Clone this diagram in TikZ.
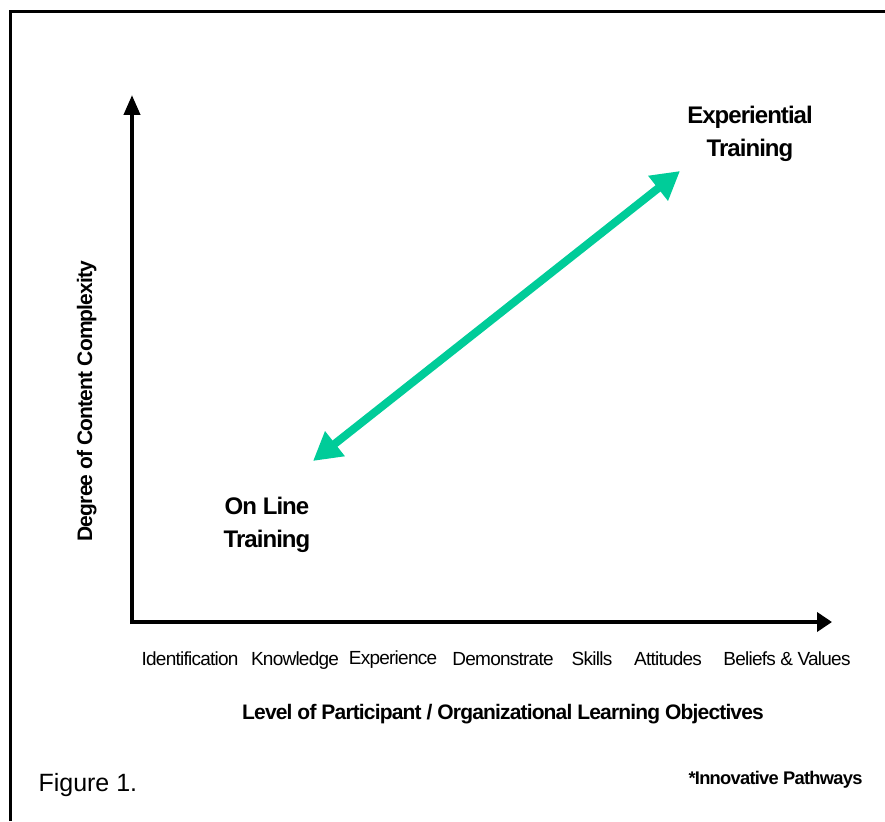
\documentclass[tikz,border=0pt]{standalone}
\usepackage{fontspec}
\setmainfont{Liberation Sans}
\usetikzlibrary{arrows.meta}

\definecolor{pathgreen}{RGB}{0,204,153}

% плотный набор, как в исходной схеме
\newcommand{\tight}{\addfontfeatures{LetterSpace=-4}}

\tikzset{
	axis/.style={line width=4pt},
	ticklabel/.style={font=\fontsize{19}{21}\selectfont\tight, anchor=base},
	endlabel/.style={font=\fontsize{24}{33}\selectfont\bfseries\tight, align=center},
	axistitle/.style={font=\fontsize{21}{24}\selectfont\bfseries\tight},
}

\begin{document}
\begin{tikzpicture}[x=1pt, y=-1pt]
	\useasboundingbox (0,0) rectangle (885,821);

	% Рамка (видны только верх и левый край)
	\draw[line width=3pt] (10,821) -- (10,11.5) -- (885,11.5);

	% Оси
	\coordinate (origin) at (132,622);
	\coordinate (ytip) at (132,95);
	\coordinate (xtip) at (832,622);
	\draw[axis, -{Triangle[length=20pt, width=16pt]}] ([yshift=-2pt]origin) -- (ytip);
	\draw[axis, -{Triangle[length=15pt, width=19pt]}] ([xshift=-2pt]origin) -- (xtip);

	% Уровни целей обучения
	\node[ticklabel] (t1) at (190,665) {Identification};
	\node[ticklabel] (t2) at (295,665) {Knowledge};
	\node[ticklabel] (t3) at (393,664) {Experience};
	\node[ticklabel] (t4) at (503,665) {Demonstrate};
	\node[ticklabel] (t5) at (592,665) {Skills};
	\node[ticklabel] (t6) at (668,665) {Attitudes};
	\node[ticklabel] (t7) at (787,665) {Beliefs \& Values};

	% Подписи осей
	\node[axistitle, anchor=base] (xtitle) at (503,719)
		{Level of Participant / Organizational Learning Objectives};
	\node[axistitle, rotate=90, anchor=base] (ytitle) at (92,401)
		{Degree of Content Complexity};

	% Концы диапазона
	\node[endlabel] (online) at (267,525) {On Line\\Training};
	\node[endlabel] (exper) at (750,134) {Experiential\\Training};

	% Двунаправленная стрелка
	\coordinate (low) at (313,461);
	\coordinate (high) at (680,171);
	\draw[pathgreen, line width=8pt,
		{Triangle[length=28pt, width=30pt]}-{Triangle[length=28pt, width=30pt]}]
		(low) -- (high);

	% Подписи внизу
	\node[anchor=base west, font=\fontsize{25}{28}\selectfont] (fig) at (35,791) {Figure 1.};
	\node[anchor=base east, font=\fontsize{18.3}{20}\selectfont\bfseries\tight] (src) at (866,784)
		{*Innovative Pathways};

\end{tikzpicture}
\end{document}
